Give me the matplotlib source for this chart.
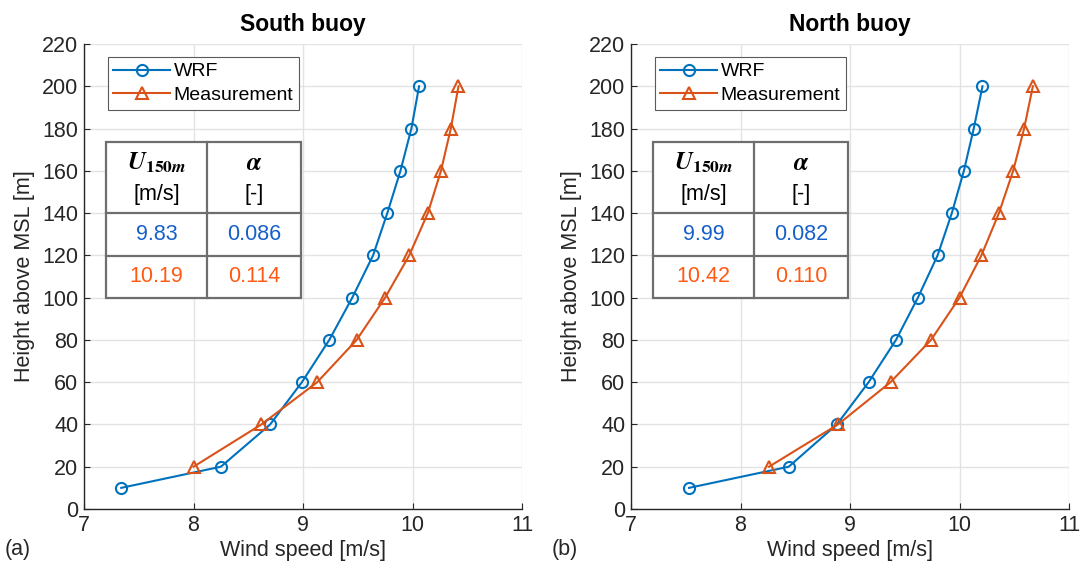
import matplotlib
matplotlib.use("Agg")
import matplotlib.pyplot as plt

# heights [m]
h_wrf = [10, 20, 40, 60, 80, 100, 120, 140, 160, 180, 200]
h_meas = [20, 40, 60, 80, 100, 120, 140, 160, 180, 200]

# South buoy wind speeds [m/s]
south_wrf = [7.34, 8.25, 8.70, 8.99, 9.24, 9.45, 9.64, 9.77, 9.89, 9.99, 10.06]
south_meas = [8.00, 8.62, 9.13, 9.49, 9.75, 9.97, 10.14, 10.26, 10.35, 10.42]
south_table = [["9.83", "0.086"], ["10.19", "0.114"]]

# North buoy wind speeds [m/s]
north_wrf = [7.53, 8.44, 8.88, 9.17, 9.42, 9.62, 9.80, 9.93, 10.04, 10.13, 10.21]
north_meas = [8.26, 8.89, 9.37, 9.74, 10.00, 10.20, 10.36, 10.49, 10.59, 10.67]
north_table = [["9.99", "0.082"], ["10.42", "0.110"]]

titles = ["South buoy", "North buoy"]
panels = ["(a)", "(b)"]

plt.rcParams["font.family"] = ["Liberation Sans", "DejaVu Sans"]
plt.rcParams["mathtext.fontset"] = "stix"

C_BLUE = "#0072BD"
C_ORANGE = "#D95319"
T_BLUE = "#1560C8"
T_ORANGE = "#FF5A14"
AX_COL = "#262626"
FS = 15.5

fig = plt.figure(figsize=(10.81, 5.73), dpi=100)
W, H = 1081, 573
ax_left = [84, 631]
ax_w = 438
ax_top, ax_bot = 44, 509


def draw_table(ax, vals):
    x0, x1, xm = 0.05, 0.495, 0.281
    y_top, y_h, y_r1, y_bot = 0.790, 0.636, 0.545, 0.453
    t = ax.transAxes
    ax.add_patch(plt.Rectangle((x0, y_bot), x1 - x0, y_top - y_bot, transform=t,
                               facecolor="white", edgecolor="#6E6E6E", lw=1.6, zorder=5))
    for y in (y_h, y_r1):
        ax.plot([x0, x1], [y, y], transform=t, color="#6E6E6E", lw=1.6, zorder=6)
    ax.plot([xm, xm], [y_bot, y_top], transform=t, color="#6E6E6E", lw=1.6, zorder=6)
    cx1, cx2 = (x0 + xm) / 2, (xm + x1) / 2
    ax.text(cx1, 0.745, r"$\mathbfit{U}_{\mathbf{150}\mathbfit{m}}$", transform=t,
            ha="center", va="center", fontsize=18, zorder=7)
    ax.text(cx2, 0.745, r"$\mathbfit{\alpha}$", transform=t,
            ha="center", va="center", fontsize=18, zorder=7)
    ax.text(cx1, 0.677, "[m/s]", transform=t, ha="center", va="center", fontsize=FS, zorder=7)
    ax.text(cx2, 0.677, "[-]", transform=t, ha="center", va="center", fontsize=FS, zorder=7)
    for (row_y, col, row) in [((y_h + y_r1) / 2, T_BLUE, vals[0]),
                              ((y_r1 + y_bot) / 2, T_ORANGE, vals[1])]:
        ax.text(cx1, row_y, row[0], transform=t, ha="center", va="center",
                fontsize=FS, color=col, zorder=7)
        ax.text(cx2, row_y, row[1], transform=t, ha="center", va="center",
                fontsize=FS, color=col, zorder=7)


data = [(south_wrf, south_meas, south_table), (north_wrf, north_meas, north_table)]

for i, (wrf, meas, tab) in enumerate(data):
    ax = fig.add_axes([ax_left[i] / W, 1 - ax_bot / H, ax_w / W, (ax_bot - ax_top) / H])
    ax.plot(wrf, h_wrf, "-o", color=C_BLUE, lw=1.5, ms=8, mfc="none", mew=1.5, label="WRF")
    ax.plot(meas, h_meas, "-^", color=C_ORANGE, lw=1.5, ms=8, mfc="none", mew=1.5,
            label="Measurement")
    ax.set_xlim(7, 11)
    ax.set_ylim(0, 220)
    ax.set_xticks([7, 8, 9, 10, 11])
    ax.set_yticks(range(0, 221, 20))
    ax.grid(True, color="#E3E3E3", lw=1)
    ax.set_axisbelow(True)
    for s in ("top", "right"):
        ax.spines[s].set_visible(False)
    for s in ("left", "bottom"):
        ax.spines[s].set_color(AX_COL)
        ax.spines[s].set_linewidth(1.0)
    ax.tick_params(direction="in", length=4, colors=AX_COL, labelsize=FS, labelcolor=AX_COL,
                   pad=4)
    ax.set_title(titles[i], fontsize=16.5, fontweight="bold", pad=9)
    ax.set_xlabel("Wind speed [m/s]", fontsize=FS, color=AX_COL, labelpad=3)
    ax.set_ylabel("Height above MSL [m]", fontsize=FS, color=AX_COL, labelpad=5)
    leg = ax.legend(loc="upper left", bbox_to_anchor=(0.054, 0.972), fontsize=14,
                    fancybox=False, edgecolor="#5A5A5A", framealpha=1,
                    borderpad=0.3, handlelength=2.9, handletextpad=0.2,
                    labelspacing=0.3, borderaxespad=0)
    leg.get_frame().set_linewidth(0.8)
    draw_table(ax, tab)
    fig.text((ax_left[i] - 79) / W, 1 - 549 / H, panels[i], fontsize=FS, color=AX_COL,
             ha="left", va="center")

fig.savefig("out.png", dpi=100)
